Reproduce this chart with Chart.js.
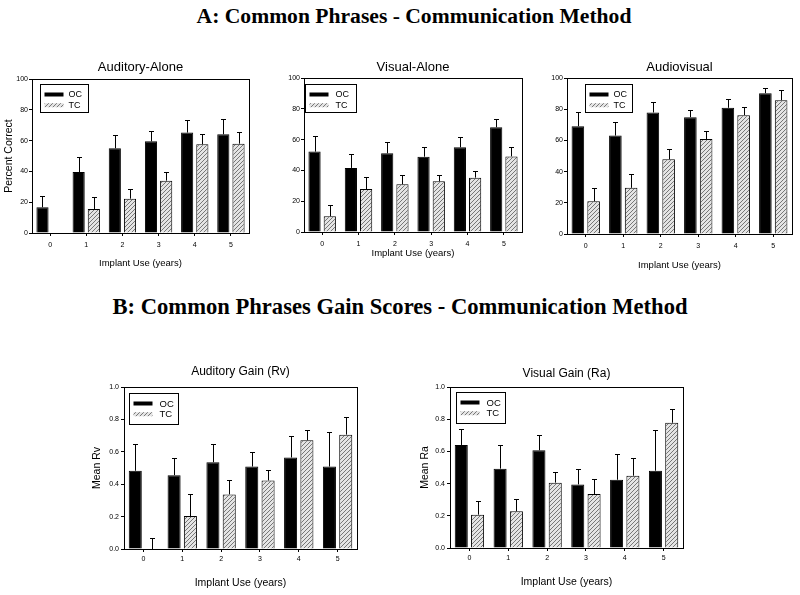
<!DOCTYPE html>
<html>
<head>
<meta charset="utf-8">
<script src="https://cdn.jsdelivr.net/npm/chart.js@4.4.1/dist/chart.umd.min.js"></script>
<style>
  body { margin: 0; width: 800px; height: 595px; background: #fff; position: relative; overflow: hidden; }
  .header { position: absolute; left: 0; width: 800px; text-align: center; color: #000;
            font-family: "Liberation Serif", "Times New Roman", serif; font-weight: bold; }
  canvas { position: absolute; }
</style>
</head>
<body>
<div class="header" style="top: 4px; left: 14px; font-size: 21.6px;">A: Common Phrases - Communication Method</div>
<div class="header" style="top: 294px; font-size: 22.6px;">B: Common Phrases Gain Scores - Communication Method</div>
<canvas id="auditory"></canvas>
<canvas id="visual"></canvas>
<canvas id="audiovisual"></canvas>
<canvas id="auditoryGain"></canvas>
<canvas id="visualGain"></canvas>
<script>
const years = ['0', '1', '2', '3', '4', '5'];
const groups = ['OC', 'TC'];
const percentTicks = [0, 20, 40, 60, 80, 100];
const gainTicks = [0.0, 0.2, 0.4, 0.6, 0.8, 1.0];

// mean values and the upper end of each error bar
const auditoryOC = [16.7, 39.6, 55.0, 59.5, 65.2, 64.1];
const auditoryOCTop = [23.8, 49.1, 63.6, 66.4, 73.4, 74.0];
const auditoryTC = [null, 15.6, 22.3, 34.0, 57.6, 58.0];
const auditoryTCTop = [null, 23.4, 28.4, 39.8, 64.3, 65.6];

const visualOC = [52.2, 41.6, 51.1, 48.9, 55.0, 68.0];
const visualOCTop = [62.1, 50.4, 58.7, 55.2, 61.7, 73.6];
const visualTC = [10.2, 27.9, 31.0, 32.9, 35.3, 49.1];
const visualTCTop = [17.7, 35.5, 37.2, 37.0, 39.6, 55.2];

const audiovisualOC = [69.1, 63.1, 77.9, 74.9, 80.9, 90.3];
const audiovisualOCTop = [77.9, 71.7, 84.8, 79.6, 86.3, 93.6];
const audiovisualTC = [21.0, 29.6, 47.9, 60.9, 76.2, 85.8];
const audiovisualTCTop = [29.8, 38.2, 54.3, 65.9, 81.3, 92.1];

const auditoryGainOC = [0.483, 0.456, 0.536, 0.509, 0.565, 0.509];
const auditoryGainOCTop = [0.647, 0.563, 0.651, 0.600, 0.696, 0.725];
const auditoryGainTC = [0.0, 0.203, 0.337, 0.423, 0.671, 0.706];
const auditoryGainTCTop = [0.07, 0.337, 0.427, 0.487, 0.737, 0.817];

const visualGainOC = [0.640, 0.493, 0.607, 0.395, 0.424, 0.480];
const visualGainOCTop = [0.737, 0.640, 0.702, 0.489, 0.584, 0.733];
const visualGainTC = [0.207, 0.228, 0.406, 0.335, 0.449, 0.778];
const visualGainTCTop = [0.292, 0.304, 0.474, 0.430, 0.559, 0.865];

const SANS = '"Liberation Sans", Arial, sans-serif';

function makeHatch() {
    const c = document.createElement('canvas');
    c.width = 4;
    c.height = 4;
    const g = c.getContext('2d');
    g.fillStyle = '#e4e4e4';
    g.fillRect(0, 0, 4, 4);
    g.strokeStyle = '#777';
    g.lineWidth = 1;
    g.beginPath();
    g.moveTo(0, 4); g.lineTo(4, 0);
    g.moveTo(-1, 1); g.lineTo(1, -1);
    g.moveTo(3, 5); g.lineTo(5, 3);
    g.stroke();
    return g.createPattern(c, 'repeat');
}
const hatch = makeHatch();

// frame round the plot, upward error bars, and the boxed legend
const extras = {
    id: 'extras',
    afterDatasetsDraw(chart, args, opts) {
        const { ctx, chartArea } = chart;
        const yScale = chart.scales.y;
        ctx.save();
        ctx.strokeStyle = '#000';
        ctx.lineWidth = 1;
        chart.data.datasets.forEach((ds, i) => {
            chart.getDatasetMeta(i).data.forEach((bar, j) => {
                const top = ds.errTop[j];
                if (top == null) return;
                const x = Math.round(bar.x) + 0.5;
                const y0 = yScale.getPixelForValue(ds.data[j] || 0);
                const y1 = Math.round(yScale.getPixelForValue(top)) + 0.5;
                ctx.beginPath();
                ctx.moveTo(x, y0);
                ctx.lineTo(x, y1);
                ctx.moveTo(x - 2.5, y1);
                ctx.lineTo(x + 2.5, y1);
                ctx.stroke();
            });
        });
        ctx.strokeRect(Math.round(chartArea.left) + 0.5, Math.round(chartArea.top) + 0.5,
            Math.round(chartArea.width), Math.round(chartArea.height));

        const lx = Math.round(chartArea.left + opts.dx) + 0.5;
        const ly = Math.round(chartArea.top + opts.dy) + 0.5;
        ctx.fillStyle = '#fff';
        ctx.fillRect(lx, ly, opts.w, opts.h);
        ctx.strokeRect(lx, ly, opts.w, opts.h);
        ctx.font = opts.font + 'px ' + SANS;
        ctx.textBaseline = 'middle';
        chart.data.datasets.forEach((ds, i) => {
            const rowY = ly + 10 + 10.7 * i;
            ctx.fillStyle = ds.backgroundColor;
            ctx.fillRect(lx + 4, rowY - 2, 19, 4);
            ctx.fillStyle = '#000';
            ctx.fillText(ds.label, lx + opts.textX, rowY + 0.5);
        });
        ctx.restore();
    }
};

function drawPanel(canvasId, place, oc, ocTop, tc, tcTop, ticks, style) {
    const canvas = document.getElementById(canvasId);
    canvas.width = place.width;
    canvas.height = place.height;
    canvas.style.left = place.left + 'px';
    canvas.style.top = place.top + 'px';

    new Chart(canvas, {
        type: 'bar',
        data: {
            labels: years,
            datasets: [
                { label: groups[0], data: oc, errTop: ocTop, backgroundColor: '#000' },
                { label: groups[1], data: tc, errTop: tcTop, backgroundColor: hatch }
            ]
        },
        options: {
            responsive: false,
            animation: false,
            devicePixelRatio: 1,
            layout: { padding: { left: 0, right: 4, top: 0, bottom: 0 } },
            datasets: {
                bar: {
                    borderColor: '#000',
                    borderWidth: 1,
                    categoryPercentage: 0.84,
                    barPercentage: 0.8
                }
            },
            plugins: {
                legend: { display: false },
                tooltip: { enabled: false },
                title: {
                    display: true,
                    text: style.title,
                    fullSize: false,
                    color: '#000',
                    font: { family: SANS, size: style.titleSize, weight: 'normal' },
                    padding: { top: 0, bottom: style.titleGap }
                },
                extras: style.legend
            },
            scales: {
                x: {
                    offset: true,
                    afterFit: scale => { scale.height = style.xH; },
                    grid: { offset: false, drawOnChartArea: false, drawTicks: true, tickLength: 3, color: '#000' },
                    border: { display: true, color: '#000' },
                    ticks: { color: '#000', padding: style.xTickPad, font: { family: SANS, size: 7 } },
                    title: {
                        display: true,
                        text: 'Implant Use (years)',
                        color: '#000',
                        font: { family: SANS, size: style.xTitleSize },
                        padding: 0
                    }
                },
                y: {
                    min: ticks[0],
                    max: ticks[ticks.length - 1],
                    afterFit: scale => { scale.width = style.yW; },
                    grid: { drawOnChartArea: false, drawTicks: true, tickLength: 3, color: '#000' },
                    border: { display: true, color: '#000' },
                    ticks: {
                        stepSize: ticks[1] - ticks[0],
                        color: '#000',
                        padding: style.yTickPad,
                        font: { family: SANS, size: 7 },
                        callback: v => style.decimals ? v.toFixed(1) : v
                    },
                    title: {
                        display: !!style.yTitle,
                        text: style.yTitle || '',
                        color: '#000',
                        font: { family: SANS, size: 10.5 },
                        padding: { top: style.yTitlePad, bottom: 0 }
                    }
                }
            }
        },
        plugins: [extras]
    });
}

drawPanel('auditory', { left: 0, top: 60, width: 253, height: 209 },
    auditoryOC, auditoryOCTop, auditoryTC, auditoryTCTop, percentTicks,
    { title: 'Auditory-Alone', titleSize: 13, titleGap: 3.4, xH: 36, xTitleSize: 9.5, xTickPad: 5,
      yW: 32, yTickPad: 1, yTitle: 'Percent Correct', yTitlePad: 2.7,
      legend: { dx: 8, dy: 5, w: 48, h: 28, font: 9, textX: 28 } });

drawPanel('visual', { left: 278, top: 60, width: 248, height: 199 },
    visualOC, visualOCTop, visualTC, visualTCTop, percentTicks,
    { title: 'Visual-Alone', titleSize: 13, titleGap: 2.4, xH: 27, xTitleSize: 9.5, xTickPad: 5,
      yW: 26, yTickPad: 1,
      legend: { dx: 1, dy: 6, w: 51, h: 28, font: 9, textX: 30 } });

drawPanel('audiovisual', { left: 543, top: 60, width: 253, height: 211 },
    audiovisualOC, audiovisualOCTop, audiovisualTC, audiovisualTCTop, percentTicks,
    { title: 'Audiovisual', titleSize: 13, titleGap: 2.4, xH: 37, xTitleSize: 9.5, xTickPad: 5,
      yW: 24, yTickPad: 1,
      legend: { dx: 18, dy: 6, w: 47, h: 28, font: 9, textX: 28 } });

drawPanel('auditoryGain', { left: 88, top: 364, width: 273, height: 225 },
    auditoryGainOC, auditoryGainOCTop, auditoryGainTC, auditoryGainTCTop, gainTicks,
    { title: 'Auditory Gain (Rv)', titleSize: 12, titleGap: 8.6, xH: 40, xTitleSize: 10.5, xTickPad: 3,
      yW: 36, yTickPad: 2, yTitle: 'Mean Rv', yTitlePad: 2.7, decimals: true,
      legend: { dx: 5, dy: 6, w: 49, h: 31, font: 9.5, textX: 30 } });

drawPanel('visualGain', { left: 414, top: 366, width: 273, height: 222 },
    visualGainOC, visualGainOCTop, visualGainTC, visualGainTCTop, gainTicks,
    { title: 'Visual Gain (Ra)', titleSize: 12, titleGap: 6.6, xH: 40, xTitleSize: 10.5, xTickPad: 3,
      yW: 36, yTickPad: 2, yTitle: 'Mean Ra', yTitlePad: 4.7, decimals: true,
      legend: { dx: 6, dy: 5, w: 49, h: 31, font: 9.5, textX: 30 } });
</script>
</body>
</html>
